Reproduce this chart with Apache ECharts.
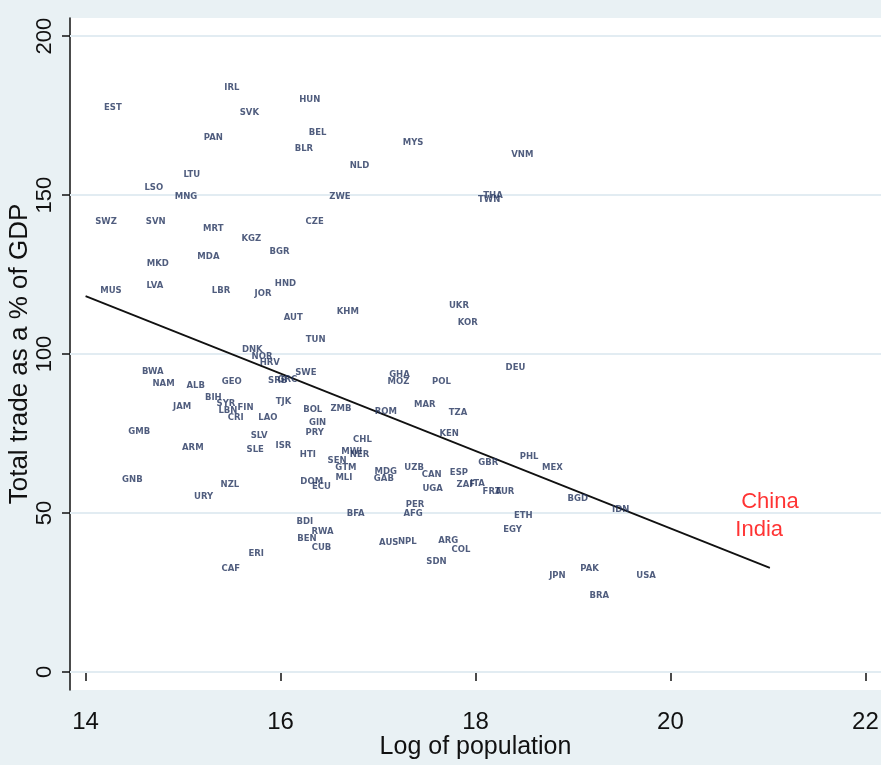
<!DOCTYPE html>
<html>
<head>
<meta charset="utf-8">
<script src="https://cdn.jsdelivr.net/npm/echarts@6/dist/echarts.min.js"></script>
<style>
html,body{margin:0;padding:0;background:#e9f1f4;}
#chart{width:881px;height:765px;}
</style>
</head>
<body>
<div id="chart"></div>
<script>
const codes = ['EST','IRL','HUN','SVK','PAN','BEL','BLR','MYS','NLD','VNM','LTU','LSO','MNG','ZWE','THA','TWN','SWZ','SVN','MRT','KGZ','CZE','BGR','MKD','MDA','HND','MUS','LVA','LBR','JOR','UKR','KHM','AUT','KOR','TUN','DNK','NOR','HRV','DEU','BWA','NAM','ALB','GEO','SRB','GRC','SWE','GHA','MOZ','POL','BIH','SYR','LBN','CRI','FIN','JAM','TJK','LAO','MAR','BOL','ZMB','ROM','TZA','GIN','PRY','KEN','GMB','SLV','ARM','SLE','ISR','CHL','HTI','MWI','NER','PHL','GBR','SEN','GTM','MEX','UZB','MDG','CAN','ESP','MLI','GAB','GNB','ZAF','ITA','NZL','DOM','ECU','FRA','TUR','UGA','URY','BGD','IDN','PER','AFG','BFA','ETH','BDI','RWA','EGY','BEN','CUB','AUS','NPL','ARG','COL','ERI','SDN','CAF','JPN','PAK','USA','BRA'];
const logPop = [14.28,15.50,16.30,15.68,15.31,16.38,16.24,17.36,16.81,18.48,15.09,14.70,15.03,16.61,18.18,18.14,14.21,14.72,15.31,15.70,16.35,15.99,14.74,15.26,16.05,14.26,14.71,15.39,15.82,17.83,16.69,16.13,17.92,16.36,15.71,15.81,15.89,18.41,14.69,14.80,15.13,15.50,15.97,16.07,16.26,17.22,17.21,17.65,15.31,15.44,15.46,15.54,15.64,14.99,16.03,15.87,17.48,16.33,16.62,17.08,17.82,16.38,16.35,17.73,14.55,15.78,15.10,15.74,16.03,16.84,16.28,16.73,16.81,18.55,18.13,16.58,16.67,18.79,17.37,17.08,17.55,17.83,16.65,17.06,14.48,17.90,18.02,15.48,16.32,16.42,18.17,18.30,17.56,15.21,19.05,19.49,17.38,17.36,16.77,18.49,16.25,16.43,18.38,16.27,16.42,17.11,17.30,17.72,17.85,15.75,17.60,15.49,18.84,19.17,19.75,19.27];
const trade = [177.4,183.6,179.9,175.8,167.9,169.5,164.5,166.4,159.1,162.6,156.3,152.2,149.4,149.4,149.7,148.4,141.5,141.5,139.3,136.2,141.5,132.1,128.3,130.5,122.0,119.8,121.4,119.8,118.9,115.1,113.2,111.3,109.7,104.4,101.3,99.1,97.2,95.6,94.3,90.6,89.9,91.2,91.5,91.8,94.0,93.4,91.2,91.2,86.2,84.3,82.1,79.9,83.0,83.3,84.9,79.9,84.0,82.4,82.7,81.8,81.4,78.3,75.2,74.8,75.5,74.2,70.4,69.8,71.1,73.0,68.2,69.2,68.2,67.6,65.7,66.4,64.2,64.2,64.2,62.9,61.9,62.6,61.0,60.7,60.4,58.8,59.1,58.8,59.7,58.2,56.6,56.6,57.5,55.0,54.4,50.9,52.5,49.7,49.7,49.1,47.2,44.0,44.7,41.8,39.0,40.6,40.9,41.2,38.4,37.1,34.6,32.4,30.2,32.4,30.2,23.9];
const highlightNames = ['China','India'];
const highlightX = [21.02,20.91];
const highlightY = [53.5,44.7];
const fitX = [14.0,21.02];
const fitY = [118.2,32.7];
const xTicks = [14,16,18,20,22];
const yTicks = [0,50,100,150,200];

const chart = echarts.init(document.getElementById('chart'));
const countryData = codes.map((c,i)=>({name:c,value:[logPop[i],trade[i]]}));
const hlData = highlightNames.map((c,i)=>({name:c,value:[highlightX[i],highlightY[i]]}));
const fitData = fitX.map((x,i)=>[x,fitY[i]]);

chart.setOption({
  backgroundColor:'#e9f1f4',
  animation:false,
  grid:{left:70,top:18,right:0,bottom:75,show:true,backgroundColor:'#ffffff',borderWidth:0,outerBoundsMode:'none',containLabel:false},
  xAxis:{
    type:'value',min:13.84,max:22.16,
    name:'Log of population',nameLocation:'middle',nameGap:45,nameMoveOverlap:false,
    nameTextStyle:{fontFamily:'Liberation Sans Narrow, Arial Narrow, sans-serif',fontSize:25,color:'#111'},
    axisLine:{show:true,lineStyle:{color:'#111',width:1.5}},
    axisTick:{show:true,length:9,lineStyle:{color:'#111',width:1.5},customValues:xTicks},
    axisLabel:{customValues:xTicks,margin:20,fontFamily:'Liberation Sans Narrow, Arial Narrow, sans-serif',fontSize:24,color:'#111'},
    splitLine:{show:false}
  },
  yAxis:{
    type:'value',min:-5.7,max:205.7,
    name:'Total trade as a % of GDP',nameLocation:'middle',nameGap:37,nameRotate:90,nameMoveOverlap:false,
    nameTextStyle:{fontFamily:'Liberation Sans, sans-serif',fontSize:26,color:'#111'},
    axisLine:{show:true,lineStyle:{color:'#111',width:1.5}},
    axisTick:{show:true,length:8,lineStyle:{color:'#111',width:1.5},customValues:yTicks},
    axisLabel:{customValues:yTicks,rotate:90,margin:14,fontFamily:'Liberation Sans, sans-serif',fontSize:22,color:'#111'},
    splitLine:{show:false}
  },
  series:[
    {
      type:'line',data:fitData,symbol:'none',silent:true,z:3,
      lineStyle:{color:'#111',width:1.8},
      markLine:{
        silent:true,symbol:'none',label:{show:false},
        lineStyle:{color:'#e2ecf2',width:2,type:'solid'},
        data:yTicks.map(v=>({yAxis:v})),
        z:1
      }
    },
    {
      type:'scatter',data:countryData,symbolSize:2,itemStyle:{color:'rgba(0,0,0,0)'},z:4,
      labelLayout:{hideOverlap:false},
      label:{show:true,position:'inside',formatter:p=>p.name,fontFamily:'DejaVu Sans, sans-serif',fontSize:8.5,fontWeight:'bold',color:'#24345e'}
    },
    {
      type:'scatter',data:hlData,symbolSize:2,itemStyle:{color:'rgba(0,0,0,0)'},z:4,
      label:{show:true,position:'inside',formatter:p=>p.name,fontFamily:'Liberation Sans, sans-serif',fontSize:22,color:'#ff0000'}
    }
  ]
});
</script>
</body>
</html>
